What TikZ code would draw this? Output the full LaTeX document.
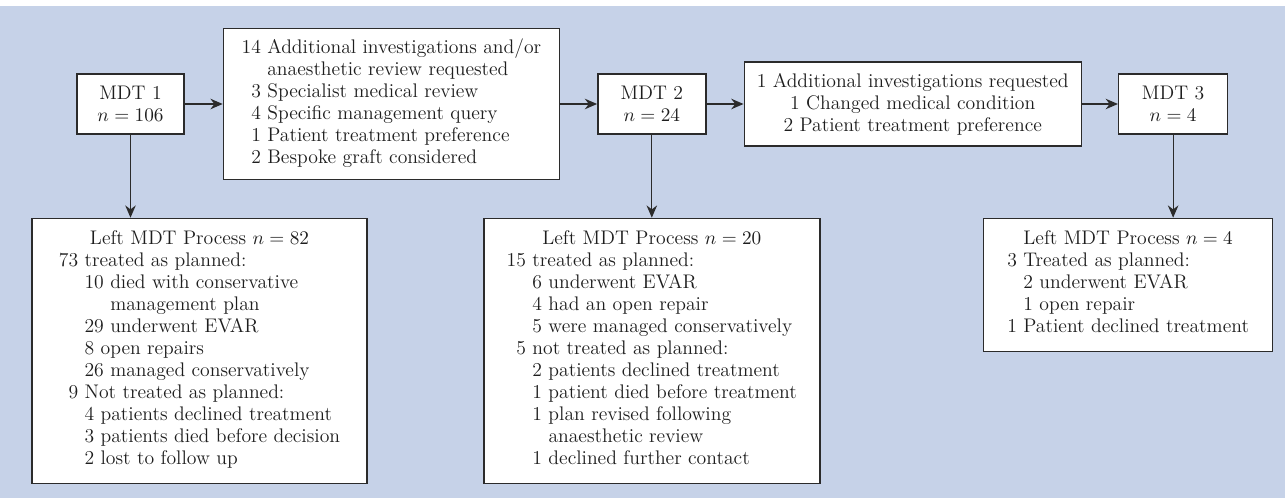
\documentclass[tikz,border=0pt]{standalone}
\usepackage{xcolor}
\usepackage{tikz}
\usetikzlibrary{positioning,arrows.meta}
\definecolor{mdtback}{HTML}{C6D2E8}
\definecolor{mdtline}{HTML}{2B2B2B}
\definecolor{mdttext}{HTML}{1E1E1E}

\begin{document}
\begin{tikzpicture}[
  font=\fontsize{11.2}{12.5}\selectfont, text=mdttext,
  mdtbox/.style={rectangle, draw=mdtline, line width=0.8pt, fill=white, minimum width=2.14cm, minimum height=1.2cm, inner sep=2pt, align=center},
  reasonbox/.style={rectangle, draw=mdtline, line width=0.8pt, fill=white, minimum width=6.72cm, inner sep=2pt, align=center},
  outbox/.style={rectangle, draw=mdtline, line width=0.8pt, fill=white, minimum width=6.7cm, inner sep=2pt, align=center},
  arrow/.style={-{Stealth[length=7pt,width=6pt]}, line width=0.7pt, draw=mdtline}
]
\useasboundingbox (0,0) rectangle (25.7,-9.96);
\fill[mdtback] (0,-0.12) rectangle (25.7,-9.96);
\node[mdtbox] (mdt1) at (2.61,-2.08) {MDT 1\\$n = 106$};
\node[reasonbox, minimum height=3.02cm, right=0.76cm of mdt1] (why1) {\begin{tabular}{@{}r@{\ }l@{}}
14 & Additional investigations and/or\\
   & anaesthetic review requested\\
 3 & Specialist medical review\\
 4 & Specific management query\\
 1 & Patient treatment preference\\
 2 & Bespoke graft considered
\end{tabular}};
\node[mdtbox, minimum width=2.16cm, right=0.74cm of why1] (mdt2) {MDT 2\\$n = 24$};
\node[reasonbox, minimum width=6.74cm, minimum height=1.68cm, right=0.74cm of mdt2] (why2) {1 Additional investigations requested\\1 Changed medical condition\\2 Patient treatment preference};
\node[mdtbox, minimum width=2.18cm, right=0.72cm of why2] (mdt3) {MDT 3\\$n = 4$};
\node[outbox, minimum height=5.3cm, below=1.66cm of mdt1, xshift=1.38cm] (left1) {Left MDT Process $n = 82$\\[3pt]
\begin{tabular}{@{}r@{\ }l@{}}
73 & treated as planned:\\
   & 10 died with conservative\\
   & \phantom{10\ }management plan\\
   & 29 underwent EVAR\\
   & 8 open repairs\\
   & 26 managed conservatively\\
 9 & Not treated as planned:\\
   & 4 patients declined treatment\\
   & 3 patients died before decision\\
   & 2 lost to follow up
\end{tabular}};
\node[outbox, minimum width=6.72cm, minimum height=5.3cm, below=1.66cm of mdt2] (left2) {Left MDT Process $n = 20$\\[3pt]
\begin{tabular}{@{}r@{\ }l@{}}
15 & treated as planned:\\
   & 6 underwent EVAR\\
   & 4 had an open repair\\
   & 5 were managed conservatively\\
 5 & not treated as planned:\\
   & 2 patients declined treatment\\
   & 1 patient died before treatment\\
   & 1 plan revised following\\
   & \phantom{1\ }anaesthetic review\\
   & 1 declined further contact
\end{tabular}};
\node[outbox, minimum width=5.78cm, minimum height=2.66cm, below=1.66cm of mdt3, xshift=-0.9cm] (left3) {Left MDT Process $n = 4$\\[3pt]
\begin{tabular}{@{}r@{\ }l@{}}
3 & Treated as planned:\\
  & 2 underwent EVAR\\
  & 1 open repair\\
1 & Patient declined treatment
\end{tabular}};
\draw[arrow] (mdt1.east) -- (mdt1.east -| why1.west);
\draw[arrow] (why1.east |- mdt2.west) -- (mdt2.west);
\draw[arrow] (mdt2.east) -- (mdt2.east -| why2.west);
\draw[arrow] (why2.east |- mdt3.west) -- (mdt3.west);
\draw[arrow] (mdt1) -- (mdt1 |- left1.north);
\draw[arrow] (mdt2) -- (left2);
\draw[arrow] (mdt3) -- (mdt3 |- left3.north);
\end{tikzpicture}
\end{document}
